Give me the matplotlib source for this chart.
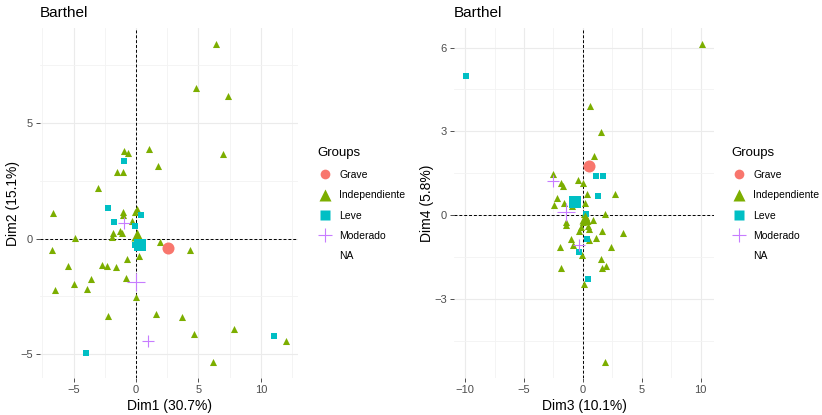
import numpy as np
import matplotlib.pyplot as plt
from matplotlib.lines import Line2D

plt.rcParams['font.family'] = ['Liberation Sans', 'DejaVu Sans']

# group colours (ggplot default hues)
colors = {'Grave': '#F8766D', 'Independiente': '#7CAE00',
          'Leve': '#00BFC4', 'Moderado': '#C77CFF'}

# ---- Dim1 / Dim2 ----
indep_d1 = [6.42, 4.78, 7.36, 6.93, 1.01, 1.75, -0.96, -0.66, -1.49, -1.01, -3.08,
            -6.61, -1.04, -1.04, 0.08, -0.05, -0.32, -1.81, -1.30, -1.12, -1.91, -4.86,
            1.89, 4.32, -6.75, 0.24, -0.69, -5.47, -2.71, -2.36, -1.59, -0.77, -3.59,
            -4.94, -3.96, -6.45, 0.0, -2.26, 1.57, 3.67, 7.86, 4.68, 12.03, 6.19]
indep_d2 = [8.43, 6.52, 6.16, 3.67, 3.90, 3.15, 3.81, 3.71, 2.89, 2.87, 2.19,
            1.11, 1.16, 1.04, 1.29, 1.17, 0.76, 0.26, 0.32, 0.23, 0.07, 0.04,
            -0.14, -0.50, -0.49, -0.75, -0.88, -1.18, -1.13, -1.18, -1.21, -1.70, -1.75,
            -1.95, -2.18, -2.21, -2.53, -3.36, -3.25, -3.39, -3.91, -4.13, -4.44, -5.34]
leve_d1 = [-0.96, -2.23, 0.37, -1.78, -0.10, -0.08, 11.08, -4.04]
leve_d2 = [3.38, 1.34, 1.03, 0.71, 0.55, -0.29, -4.21, -4.95]
mod_d1 = [-0.98, 0.96]
mod_d2 = [0.69, -4.42]

# group centres, Dim1/Dim2 (Grave, Independiente, Leve, Moderado)
mean_d1 = [2.58, 0.06, 0.29, 0.0]
mean_d2 = [-0.40, 0.18, -0.27, -1.86]

# ---- Dim3 / Dim4 ----
indep_d3 = [10.14, 0.65, 1.53, 0.93, -2.50, -1.84, -1.67, -0.43, 0.03, 0.34, 2.74,
            -2.18, -2.41, -1.59, -0.88, 0.17, -1.42, -1.42, 0.28, 0.39, 0.90, 1.92,
            0.0, 0.48, 0.56, -0.17, -0.31, 1.64, 3.45, -0.97, 1.13, 0.56, -0.80,
            -1.98, 2.41, -0.03, 1.56, -1.87, 1.59, 2.00, 0.14, 1.92, 0.10, 0.20]
indep_d4 = [6.13, 3.92, 2.99, 2.11, 1.49, 1.15, 1.06, 1.25, 1.17, 0.75, 0.77,
            0.61, 0.37, 0.44, 0.33, 0.44, -0.24, -0.36, -0.06, -0.20, -0.18, 0.06,
            -0.24, -0.37, -0.48, -0.42, -0.57, -0.56, -0.65, -0.85, -0.80, -0.89, -1.05,
            -1.14, -1.15, -1.43, -1.56, -1.89, -1.87, -1.82, -2.44, -5.25, 0.05, -0.10]
leve_d3 = [-9.94, 1.13, 1.73, 1.27, 0.28, 0.37, -0.31, 0.42]
leve_d4 = [5.00, 1.39, 1.39, 0.68, 0.04, -0.85, -1.32, -2.27]
mod_d3 = [-2.55, -0.31]
mod_d4 = [1.23, -1.06]

mean_d3 = [0.51, 0.20, -0.65, -1.45]
mean_d4 = [1.75, -0.10, 0.48, 0.12]

groups = ['Grave', 'Independiente', 'Leve', 'Moderado']
mean_markers = ['o', '^', 's', '+']
mean_sizes = [75, 75, 70, 150]


def draw_panel(ax, ix, iy, lx, ly, mx, my, cx, cy, xlabel, ylabel, xticks, yticks,
               xminor, yminor):
    ax.scatter(ix, iy, marker='^', s=26, c=colors['Independiente'], lw=0, zorder=3)
    ax.scatter(lx, ly, marker='s', s=20, c=colors['Leve'], lw=0, zorder=3)
    ax.scatter(mx, my, marker='+', s=70, c=colors['Moderado'],
               edgecolors=colors['Moderado'], lw=0.8, zorder=3)
    for g, m, s, x, y in zip(groups, mean_markers, mean_sizes, cx, cy):
        if m == '+':
            ax.scatter([x], [y], marker=m, s=s, c=colors[g], edgecolors=colors[g],
                       lw=0.8, zorder=4)
        else:
            ax.scatter([x], [y], marker=m, s=s, c=colors[g], lw=0, zorder=4)

    ax.axhline(0, color='black', ls=(0, (3, 2)), lw=0.7, zorder=2)
    ax.axvline(0, color='black', ls=(0, (3, 2)), lw=0.7, zorder=2)

    ax.set_xticks(xticks)
    ax.set_yticks(yticks)
    ax.set_xticks(xminor, minor=True)
    ax.set_yticks(yminor, minor=True)

    # limits after ticks so minor ticks don't widen the view
    allx = np.concatenate([ix, lx, mx, cx])
    ally = np.concatenate([iy, ly, my, cy])
    dx = (allx.max() - allx.min()) * 0.05
    dy = (ally.max() - ally.min()) * 0.05
    ax.set_xlim(allx.min() - dx, allx.max() + dx)
    ax.set_ylim(ally.min() - dy, ally.max() + dy)

    ax.grid(True, which='major', color='#EBEBEB', lw=0.8, zorder=0)
    ax.grid(True, which='minor', color='#F3F3F3', lw=0.6, zorder=0)
    ax.set_axisbelow(True)
    for sp in ax.spines.values():
        sp.set_visible(False)
    ax.tick_params(which='major', length=3, width=0.6, color='#333333',
                   labelsize=8, labelcolor='#4D4D4D', pad=2)
    ax.tick_params(which='minor', length=0)
    ax.set_xlabel(xlabel, fontsize=10, labelpad=3)
    ax.set_ylabel(ylabel, fontsize=10, labelpad=0)
    ax.set_title('Barthel', loc='left', fontsize=11, pad=8)


fig = plt.figure(figsize=(8.22, 4.15), dpi=100)
ax1 = fig.add_axes([40 / 822, 37 / 415, 258 / 822, 350 / 415])
ax2 = fig.add_axes([454 / 822, 37 / 415, 260 / 822, 350 / 415])

draw_panel(ax1, indep_d1, indep_d2, leve_d1, leve_d2, mod_d1, mod_d2, mean_d1, mean_d2,
           'Dim1 (30.7%)', 'Dim2 (15.1%)', [-5, 0, 5, 10], [-5, 0, 5],
           [-7.5, -2.5, 2.5, 7.5, 12.5], [-7.5, -2.5, 2.5, 7.5])
draw_panel(ax2, indep_d3, indep_d4, leve_d3, leve_d4, mod_d3, mod_d4, mean_d3, mean_d4,
           'Dim3 (10.1%)', 'Dim4 (5.8%)', [-10, -5, 0, 5, 10], [-3, 0, 3, 6],
           [-7.5, -2.5, 2.5, 7.5], [-4.5, -1.5, 1.5, 4.5])

handles = [
    Line2D([], [], ls='none', marker='o', ms=7, mec='none', mfc=colors['Grave']),
    Line2D([], [], ls='none', marker='^', ms=8, mec='none', mfc=colors['Independiente']),
    Line2D([], [], ls='none', marker='s', ms=7, mec='none', mfc=colors['Leve']),
    Line2D([], [], ls='none', marker='+', ms=10, mew=0.8, mec=colors['Moderado']),
    Line2D([], [], ls='none'),
]
labels = groups + ['NA']
for xpos in (308 / 822, 722 / 822):
    leg = fig.legend(handles, labels, title='Groups', loc='upper left',
                     bbox_to_anchor=(xpos, 1 - 138 / 415), frameon=False,
                     fontsize=7.5, title_fontsize=9.5, alignment='left',
                     labelspacing=1.0, handletextpad=0.6, handlelength=1.5)

fig.savefig('out.png', dpi=100)
